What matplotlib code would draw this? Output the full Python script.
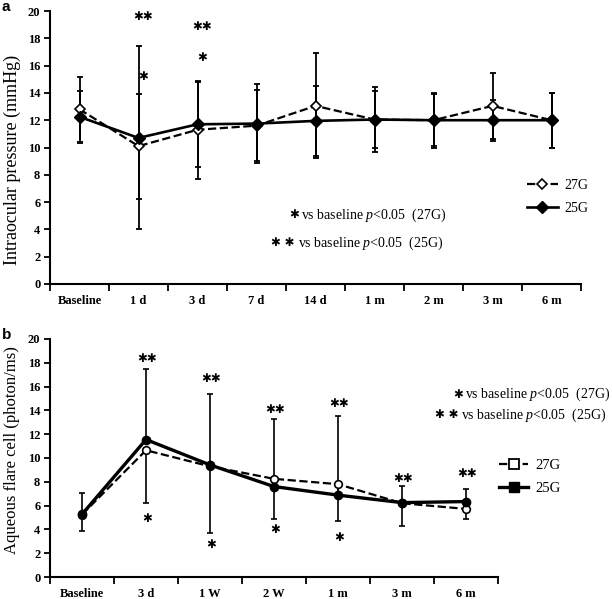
import numpy as np
import matplotlib
matplotlib.use("Agg")
import matplotlib.pyplot as plt
from matplotlib.lines import Line2D

plt.rcParams['font.family'] = ['Liberation Serif', 'DejaVu Sans']
plt.rcParams['mathtext.fontset'] = 'custom'
plt.rcParams['mathtext.rm'] = 'Liberation Serif'
plt.rcParams['mathtext.it'] = 'Liberation Serif:italic'

# panel a: intraocular pressure
iop_labels = ["Baseline", "1 d", "3 d", "7 d", "14 d", "1 m", "2 m", "3 m", "6 m"]
iop_27g = [12.8, 10.1, 11.3, 11.6, 13.05, 12.05, 12.0, 13.05, 12.0]
iop_27g_sd = [2.4, 3.85, 3.6, 2.6, 3.85, 2.4, 2.0, 2.4, 2.0]
iop_25g = [12.25, 10.7, 11.7, 11.75, 11.95, 12.05, 12.0, 12.0, 12.0]
iop_25g_sd = [1.9, 6.7, 3.1, 2.9, 2.55, 2.1, 1.9, 1.5, 2.0]
# significance marks: (category index, y value, text)
iop_marks = [(1, 19.6, "✱✱"), (1, 15.2, "✱"), (2, 18.9, "✱✱"), (2, 16.6, "✱")]

# panel b: aqueous flare cell
flare_labels = ["Baseline", "3 d", "1 W", "2 W", "1 m", "3 m", "6 m"]
flare_27g = [5.25, 10.65, 9.3, 8.25, 7.8, 6.2, 5.72]
flare_25g = [5.27, 11.55, 9.42, 7.6, 6.88, 6.25, 6.34]
flare_upper = [7.08, 17.5, 15.4, 13.25, 13.52, 7.65, 7.4]
flare_lower = [3.85, 6.25, 3.68, 4.88, 4.74, 4.28, 4.87]
flare_marks = [(1, 18.35, "✱✱"), (1, 4.9, "✱"), (2, 16.7, "✱✱"), (2, 2.7, "✱"),
               (3, 14.1, "✱✱"), (3, 4.0, "✱"), (4, 14.6, "✱✱"), (4, 3.3, "✱"),
               (5, 8.3, "✱✱"), (6, 8.7, "✱✱")]

W, H = 612, 599
fig = plt.figure(figsize=(W / 100, H / 100), dpi=100)


def px(x, y):
    return x / W, 1 - y / H


def style_axes(ax, labels, ylabel, lsize, lx, ly):
    n = len(labels)
    ax.set_xlim(0, n)
    ax.set_ylim(0, 20)
    ax.set_yticks(np.arange(0, 21, 2))
    ax.set_xticks(np.arange(n + 1))
    ax.set_xticklabels([])
    ax.set_xticks(np.arange(n) + 0.5, minor=True)
    ax.set_xticklabels(labels, minor=True, fontweight='bold', fontsize=9)
    ax.tick_params(axis='x', which='minor', length=0, pad=8)
    ax.tick_params(axis='x', which='major', length=5, width=1.3, direction='out')
    ax.tick_params(axis='y', length=4, width=1.3, direction='out', labelsize=9, pad=3)
    for t in ax.get_yticklabels():
        t.set_fontweight('bold')
    for s in ['top', 'right']:
        ax.spines[s].set_visible(False)
    for s in ['left', 'bottom']:
        ax.spines[s].set_linewidth(1.5)
    ax.set_ylabel(ylabel, fontsize=lsize)
    ax.yaxis.set_label_coords(lx, ly)


# ---- panel a ----
ax1 = fig.add_axes([50 / W, 1 - 284 / H, 531 / W, 273 / H])
xa = np.arange(len(iop_labels)) + 0.5
ax1.errorbar(xa, iop_27g, yerr=iop_27g_sd, fmt='none', ecolor='black',
             elinewidth=1.3, capsize=2.5, capthick=1.3, zorder=2)
ax1.errorbar(xa, iop_25g, yerr=iop_25g_sd, fmt='none', ecolor='black',
             elinewidth=1.3, capsize=2.5, capthick=1.3, zorder=2)
l27, = ax1.plot(xa, iop_27g, ls='--', lw=1.6, color='black', marker='D',
                ms=5.5, mfc='white', mec='black', mew=1.2, label='27G', zorder=3)
l25, = ax1.plot(xa, iop_25g, ls='-', lw=1.9, color='black', marker='D',
                ms=6.5, mfc='black', mec='black', label='25G', zorder=4)
for i, yv, s in iop_marks:
    ax1.text(i + 0.58, yv, s, family='DejaVu Sans', fontsize=8.5,
             ha='center', va='center')
style_axes(ax1, iop_labels, "Intraocular pressure (mmHg)", 13, -0.055, 0.455)
ax1.legend(handles=[l27, l25], loc='center left', frameon=False, fontsize=10,
           handlelength=2.2, handletextpad=0.5, labelspacing=0.7, borderpad=0,
           borderaxespad=0, bbox_to_anchor=px(527, 197), bbox_transform=fig.transFigure)

# ---- panel b ----
ax2 = fig.add_axes([50 / W, 1 - 577 / H, 448 / W, 238 / H])
xb = np.arange(len(flare_labels)) + 0.5
f25 = np.array(flare_25g)
f27 = np.array(flare_27g)
up = np.array(flare_upper) - f25
lo = f27 - np.array(flare_lower)
ax2.errorbar(xb, f25, yerr=[np.zeros_like(up), up], fmt='none', ecolor='black',
             elinewidth=1.2, capsize=2.5, capthick=1.2, zorder=2)
ax2.errorbar(xb, f27, yerr=[lo, np.zeros_like(lo)], fmt='none', ecolor='black',
             elinewidth=1.2, capsize=2.5, capthick=1.2, zorder=2)
ax2.plot(xb, f27, ls='--', lw=1.6, color='black', marker='o', ms=5.5,
         mfc='white', mec='black', mew=1.2, zorder=3)
ax2.plot(xb, f25, ls='-', lw=2.4, color='black', marker='o', ms=6,
         mfc='black', mec='black', zorder=4)
for i, yv, s in flare_marks:
    ax2.text(i + 0.52, yv, s, family='DejaVu Sans', fontsize=8.5,
             ha='center', va='center')
style_axes(ax2, flare_labels, "Aqueous flare cell (photon/ms)", 12, -0.068, 0.535)
h27 = Line2D([], [], ls='--', lw=1.6, color='black', marker='s', ms=7.5,
             mfc='white', mec='black', mew=1.3)
h25 = Line2D([], [], ls='-', lw=2.4, color='black', marker='s', ms=7.5,
             mfc='black', mec='black')
ax2.legend(handles=[h27, h25], labels=['27G', '25G'], loc='center left',
           frameon=False, fontsize=10.5, handlelength=2.0, handletextpad=0.5,
           labelspacing=0.7, borderpad=0, borderaxespad=0,
           bbox_to_anchor=px(499, 477), bbox_transform=fig.transFigure)

# significance notes
notes = [
    (294, 301, 215, "✱", r"vs baseline $p$<0.05  (27G)"),
    (283, 298, 243, "✱ ✱", r"vs baseline $p$<0.05  (25G)"),
    (458, 465, 394, "✱", r"vs baseline $p$<0.05  (27G)"),
    (447, 461, 415, "✱ ✱", r"vs baseline $p$<0.05  (25G)"),
]
for sx, tx, ty, st, txt in notes:
    fig.text(*px(sx, ty), st, family='DejaVu Sans', fontsize=8.5, ha='center', va='center')
    fig.text(*px(tx, ty), txt, fontsize=10, ha='left', va='center')

fig.text(*px(2, 0), "a", family='Liberation Sans', fontweight='bold', fontsize=11,
         ha='left', va='top')
fig.text(*px(2, 328), "b", family='Liberation Sans', fontweight='bold', fontsize=11,
         ha='left', va='top')

fig.savefig("out.png", dpi=100)
